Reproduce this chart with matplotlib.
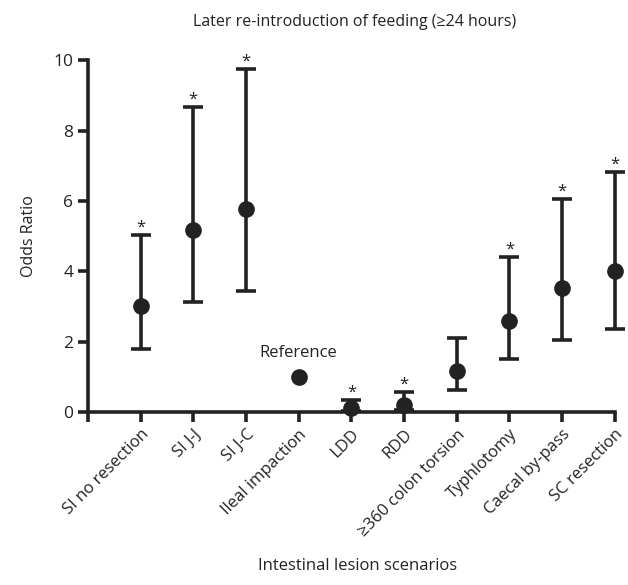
import matplotlib.pyplot as plt
import numpy as np

plt.rcParams['font.family'] = ['Open Sans', 'DejaVu Sans']

# Odds ratios with confidence intervals
scenarios = ['SI no resection', 'SI J-J', 'SI J-C', 'Ileal impaction', 'LDD', 'RDD',
             '≥360 colon torsion', 'Typhlotomy', 'Caecal by-pass', 'SC resection']
odds = [3.0, 5.16, 5.78, 1.0, 0.1, 0.2, 1.15, 2.57, 3.52, 4.02]
ci_low = [1.78, 3.11, 3.44, 1.0, 0.02, 0.05, 0.63, 1.51, 2.05, 2.36]
ci_high = [5.04, 8.68, 9.76, 1.0, 0.35, 0.56, 2.09, 4.4, 6.05, 6.82]
significant = [True, True, True, False, True, True, False, True, True, True]

ink = '#222222'
fig = plt.figure(figsize=(6.28, 5.85), dpi=100)
ax = fig.add_axes([0.140, 0.296, 0.839, 0.601])

x = np.arange(1, len(scenarios) + 1)
odds_a = np.array(odds)
yerr = [odds_a - np.array(ci_low), np.array(ci_high) - odds_a]

# error bars for all but the reference group
mask = np.array([s != 'Ileal impaction' for s in scenarios])
ax.errorbar(x[mask], odds_a[mask], yerr=[yerr[0][mask], yerr[1][mask]], fmt='o',
            color=ink, ms=11, elinewidth=2.6, capsize=7.5, capthick=2.6, zorder=3,
            clip_on=False)
ax.plot(x[~mask], odds_a[~mask], 'o', color=ink, ms=11, zorder=3)
ax.text(x[~mask][0], 1.45, 'Reference', ha='center', va='bottom', fontsize=12, color=ink)

for xi, hi, sig in zip(x, ci_high, significant):
    if sig:
        ax.text(xi, hi - 0.02, '*', ha='center', va='bottom', fontsize=12, color=ink)

ax.set_xlim(0, 10)
ax.set_ylim(0, 10)
ax.set_xticks(np.arange(0, 11))
ax.set_xticklabels([''] + scenarios, rotation=45, ha='right', rotation_mode='anchor',
                   fontsize=12, color=ink)
ax.set_yticks([0, 2, 4, 6, 8, 10])
ax.tick_params(axis='y', labelsize=12.5, colors=ink, length=7, width=2.6)
ax.tick_params(axis='x', length=7, width=2.6, colors=ink)
for side in ['top', 'right']:
    ax.spines[side].set_visible(False)
for side in ['left', 'bottom']:
    ax.spines[side].set_linewidth(2.6)
    ax.spines[side].set_color(ink)

ax.set_ylabel('Odds Ratio', fontsize=11.5, color=ink, labelpad=12)
fig.text(0.57, 0.025, 'Intestinal lesion scenarios', ha='center', fontsize=12, color=ink)
fig.text(0.565, 0.955, 'Later re-introduction of feeding (≥24 hours)', ha='center',
         fontsize=11.5, color=ink)

fig.savefig('out.png', dpi=100)
